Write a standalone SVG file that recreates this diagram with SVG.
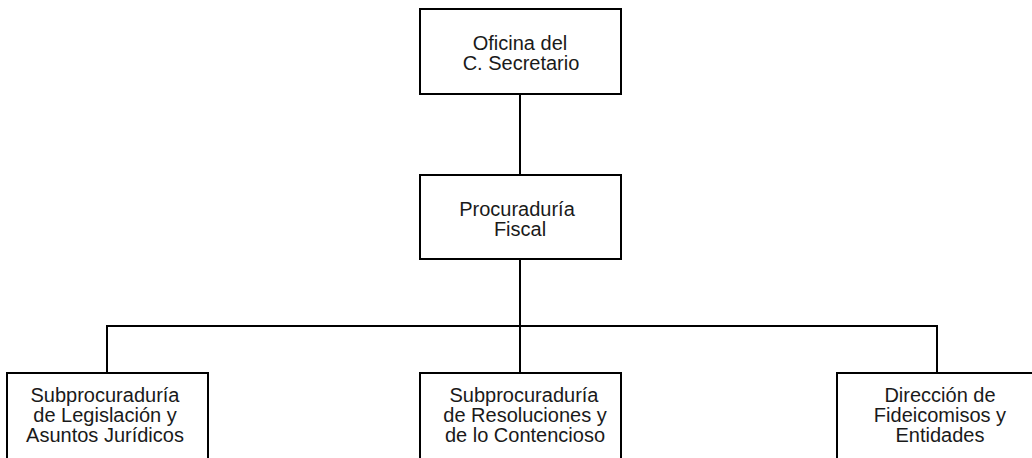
<svg xmlns="http://www.w3.org/2000/svg" width="1032" height="458" viewBox="0 0 1032 458">
<style>
.box{fill:#fff;stroke:#000;stroke-width:2}
.conn{fill:none;stroke:#000;stroke-width:2}
text{font-family:"Liberation Sans",Arial,sans-serif;font-size:20px;fill:#1a1a1a;text-anchor:middle}
</style>
<rect width="1032" height="458" fill="#fff"/>
<g id="connectors">
<path class="conn" d="M520 94V175M520 259V373M107 373V326H937V373"/>
</g>
<g id="n1">
<rect class="box" x="420" y="9" width="201" height="85"/>
<text x="520" y="50">Oficina del</text>
<text x="521" y="70">C. Secretario</text>
</g>
<g id="n2">
<rect class="box" x="420" y="175" width="201" height="84"/>
<text x="517" y="216">Procuraduría</text>
<text x="520" y="236">Fiscal</text>
</g>
<g id="n3">
<rect class="box" x="7" y="373" width="201" height="100"/>
<text x="105" y="402">Subprocuraduría</text>
<text x="105" y="422">de Legislación y</text>
<text x="105" y="442">Asuntos Jurídicos</text>
</g>
<g id="n4">
<rect class="box" x="420" y="373" width="201" height="100"/>
<text x="524" y="402">Subprocuraduría</text>
<text x="525" y="422">de Resoluciones y</text>
<text x="525" y="442">de lo Contencioso</text>
</g>
<g id="n5">
<rect class="box" x="837" y="373" width="201" height="100"/>
<text x="940" y="402">Dirección de</text>
<text x="940" y="422">Fideicomisos y</text>
<text x="940" y="442">Entidades</text>
</g>
</svg>
